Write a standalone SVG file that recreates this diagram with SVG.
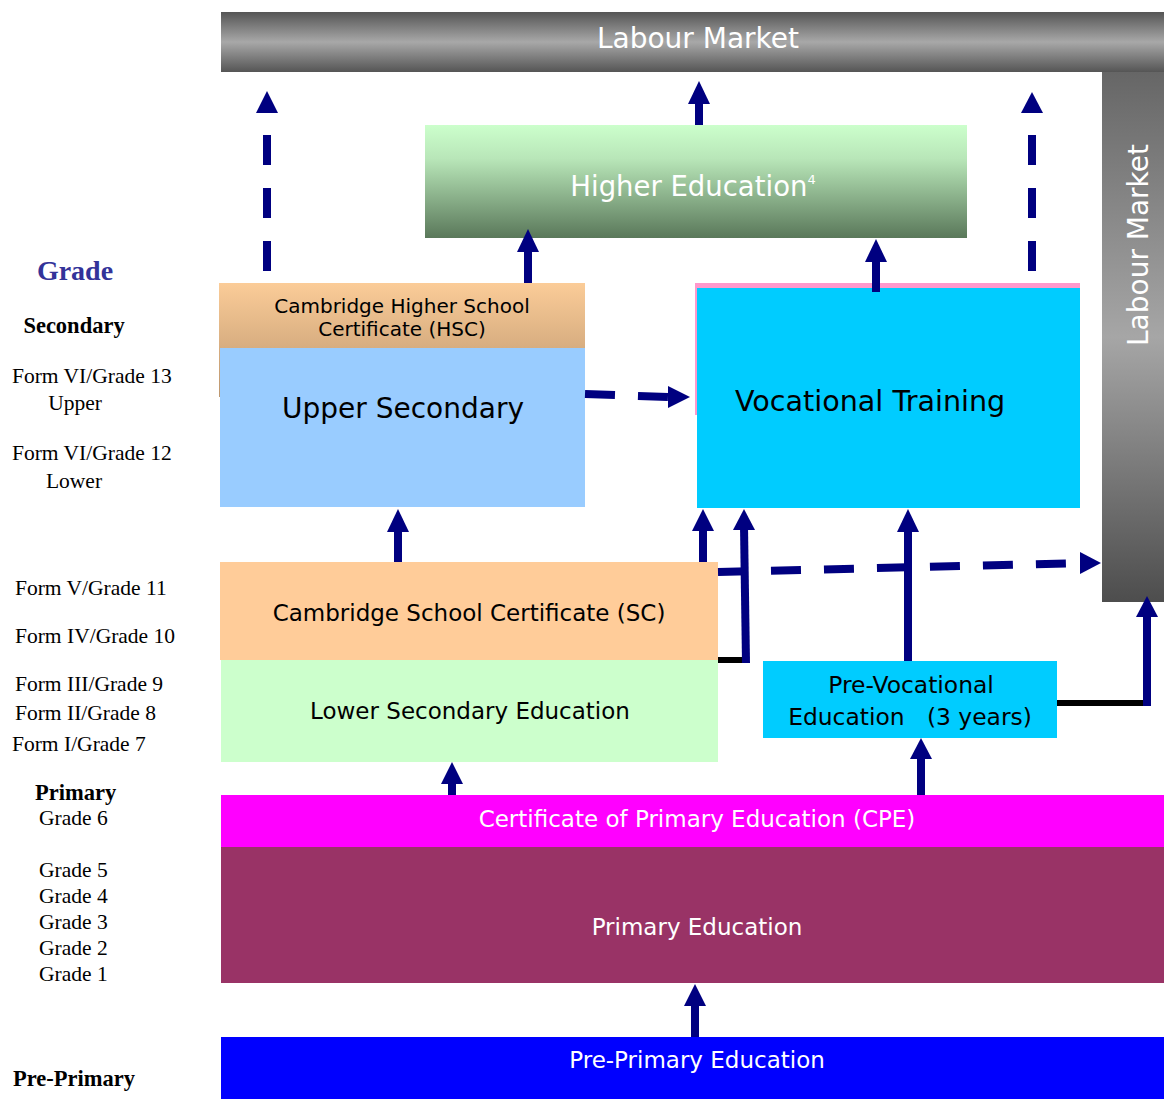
<svg xmlns="http://www.w3.org/2000/svg" width="1164" height="1099" viewBox="0 0 1164 1099">
<style>
.sans{font-family:"DejaVu Sans","Verdana",sans-serif}
.serif{font-family:"Liberation Serif","Times New Roman",serif;fill:#000;font-size:21.5px}
.b{font-weight:bold;font-size:22.5px}
.w{fill:#fff}
.k{fill:#000}
.nv{fill:#000080}
.sol{stroke:#000080;stroke-width:8;fill:none}
.dash{stroke:#000080;stroke-width:8;fill:none;stroke-dasharray:30 23}
.blk{stroke:#000;stroke-width:6;fill:none}
</style>
<defs>
<linearGradient id="gTop" x1="0" y1="0" x2="0" y2="1">
<stop offset="0" stop-color="#555"/>
<stop offset="0.5" stop-color="#a8a8a8"/>
<stop offset="1" stop-color="#555"/>
</linearGradient>
<linearGradient id="gRight" x1="0" y1="0" x2="0" y2="1">
<stop offset="0" stop-color="#666"/>
<stop offset="0.5" stop-color="#a6a6a6"/>
<stop offset="1" stop-color="#4d4d4d"/>
</linearGradient>
<linearGradient id="gHigher" x1="0" y1="0" x2="0" y2="1">
<stop offset="0" stop-color="#ccffcc"/>
<stop offset="0.3" stop-color="#b8e6b8"/>
<stop offset="1" stop-color="#5a785a"/>
</linearGradient>
<linearGradient id="gHsc" x1="0" y1="0" x2="0" y2="1">
<stop offset="0" stop-color="#fbcc98"/>
<stop offset="1" stop-color="#bc966e"/>
</linearGradient>
</defs>

<g id="labour-market-top">
<rect x="221" y="12" width="943" height="60" fill="url(#gTop)"/>
<text class="sans w" x="698" y="48" font-size="28" text-anchor="middle">Labour Market</text>
</g>
<g id="labour-market-right">
<rect x="1102" y="72" width="62" height="530" fill="url(#gRight)"/>
<text class="sans w" transform="translate(1148,245) rotate(-90)" font-size="28" text-anchor="middle">Labour Market</text>
</g>
<g id="higher-education">
<rect x="425" y="125" width="542" height="113" fill="url(#gHigher)"/>
<text class="sans w" x="693" y="196" font-size="27.5" text-anchor="middle">Higher Education<tspan font-size="13" dy="-12">4</tspan></text>
</g>
<g id="hsc">
<rect x="219" y="283" width="366" height="114" fill="url(#gHsc)"/>
<text class="sans k" x="402" y="313" font-size="20" text-anchor="middle">Cambridge Higher School</text>
<text class="sans k" x="402" y="336" font-size="20" text-anchor="middle">Certificate (HSC)</text>
</g>
<g id="upper-secondary">
<rect x="220" y="348" width="365" height="159" fill="#99ccff"/>
<text class="sans k" x="403" y="418" font-size="28" text-anchor="middle">Upper Secondary</text>
</g>
<g id="vocational-training">
<rect x="695" y="283" width="385" height="132" fill="#ff99cc"/>
<rect x="697" y="288" width="383" height="220" fill="#00ccff"/>
<text class="sans k" x="735" y="411" font-size="28.6">Vocational Training</text>
</g>
<g id="sc">
<rect x="220" y="562" width="498" height="98" fill="#ffcc99"/>
<text class="sans k" x="469" y="621" font-size="23" text-anchor="middle">Cambridge School Certificate (SC)</text>
</g>
<g id="lower-secondary">
<rect x="221" y="660" width="497" height="102" fill="#ccffcc"/>
<text class="sans k" x="470" y="719" font-size="23" text-anchor="middle">Lower Secondary Education</text>
</g>
<g id="pre-vocational">
<rect x="763" y="661" width="294" height="77" fill="#00ccff"/>
<text class="sans k" x="911" y="693" font-size="23.4" text-anchor="middle">Pre-Vocational</text>
<text class="sans k" x="910" y="725" font-size="23.4" text-anchor="middle" xml:space="preserve">Education   (3 years)</text>
</g>
<g id="cpe">
<rect x="221" y="795" width="943" height="52" fill="#ff00ff"/>
<text class="sans w" x="697" y="827" font-size="23" text-anchor="middle">Certificate of Primary Education (CPE)</text>
</g>
<g id="primary-education">
<rect x="221" y="847" width="943" height="136" fill="#993366"/>
<text class="sans w" x="697" y="935" font-size="23" text-anchor="middle">Primary Education</text>
</g>
<g id="pre-primary-education">
<rect x="221" y="1037" width="943" height="62" fill="#0000ff"/>
<text class="sans w" x="697" y="1068" font-size="23" text-anchor="middle">Pre-Primary Education</text>
</g>

<g id="grade-labels">
<text class="serif" x="75" y="280" font-size="28" font-weight="bold" text-anchor="middle" style="fill:#333399;font-size:28px">Grade</text>
<text class="serif b" x="74" y="333" text-anchor="middle">Secondary</text>
<text class="serif" x="12" y="383">Form VI/Grade 13</text>
<text class="serif" x="75" y="410" text-anchor="middle">Upper</text>
<text class="serif" x="12" y="460">Form VI/Grade 12</text>
<text class="serif" x="74" y="488" text-anchor="middle">Lower</text>
<text class="serif" x="15" y="595">Form V/Grade 11</text>
<text class="serif" x="15" y="643">Form IV/Grade 10</text>
<text class="serif" x="15" y="691">Form III/Grade 9</text>
<text class="serif" x="15" y="720">Form II/Grade 8</text>
<text class="serif" x="12" y="751">Form I/Grade 7</text>
<text class="serif b" x="35" y="800">Primary</text>
<text class="serif" x="39" y="825">Grade 6</text>
<text class="serif" x="39" y="877">Grade 5</text>
<text class="serif" x="39" y="903">Grade 4</text>
<text class="serif" x="39" y="929">Grade 3</text>
<text class="serif" x="39" y="955">Grade 2</text>
<text class="serif" x="39" y="981">Grade 1</text>
<text class="serif b" x="13" y="1086">Pre-Primary</text>
</g>

<g id="connectors">
<line class="dash" x1="267" y1="271" x2="267" y2="113"/>
<polygon class="nv" points="267,91 256,113 278,113"/>
<line class="dash" x1="1032" y1="271" x2="1032" y2="113"/>
<polygon class="nv" points="1032,92 1021,113 1043,113"/>
<line class="sol" x1="699" y1="125" x2="699" y2="100"/>
<polygon class="nv" points="699,81 688,104 710,104"/>
<line class="sol" x1="528" y1="283" x2="528" y2="245"/>
<polygon class="nv" points="528,229 517,252 539,252"/>
<line class="sol" x1="876" y1="292" x2="876" y2="255"/>
<polygon class="nv" points="876,239 865,262 887,262"/>
<line class="dash" x1="585" y1="394" x2="668" y2="397"/>
<polygon class="nv" points="690,397 668,386 668,408"/>
<line class="sol" x1="398" y1="562" x2="398" y2="528"/>
<polygon class="nv" points="398,509 387,532 409,532"/>
<line class="sol" x1="703" y1="562" x2="703" y2="528"/>
<polygon class="nv" points="703,509 692,531 714,531"/>
<line class="blk" x1="718" y1="660" x2="748" y2="660"/>
<line class="sol" x1="746" y1="663" x2="744" y2="526"/>
<polygon class="nv" points="744,509 733,530 755,530"/>
<line class="dash" x1="718" y1="572" x2="1082" y2="563"/>
<polygon class="nv" points="1101,563 1080,552 1080,574"/>
<line class="sol" x1="908" y1="661" x2="908" y2="528"/>
<polygon class="nv" points="908,509 897,532 919,532"/>
<line class="blk" x1="1057" y1="703" x2="1150" y2="703"/>
<line class="sol" x1="1147" y1="706" x2="1147" y2="612"/>
<polygon class="nv" points="1147,596 1136,617 1158,617"/>
<line class="sol" x1="921" y1="795" x2="921" y2="755"/>
<polygon class="nv" points="921,738 910,759 932,759"/>
<line class="sol" x1="452" y1="795" x2="452" y2="780"/>
<polygon class="nv" points="452,762 441,784 463,784"/>
<line class="sol" x1="695" y1="1037" x2="695" y2="1000"/>
<polygon class="nv" points="695,984 684,1006 706,1006"/>
</g>
</svg>
